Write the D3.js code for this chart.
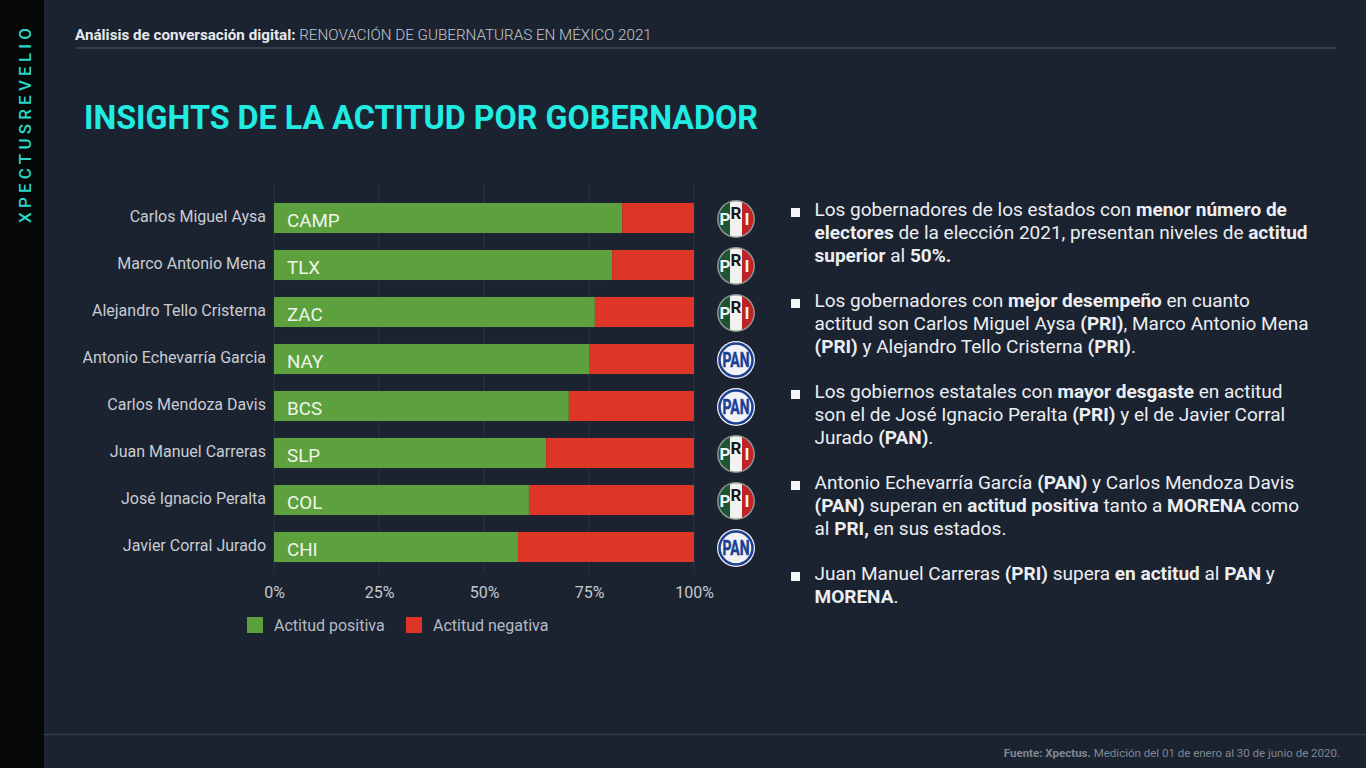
<!DOCTYPE html>
<html lang="es">

<head>
  <meta charset="UTF-8">
  <title>Insights de la actitud por gobernador</title>
  <script src="https://d3js.org/d3.v7.min.js"></script>
  <style>
    html, body { margin: 0; padding: 0; background: #1b2331; overflow: hidden; }
    svg { display: block; font-family: Roboto, sans-serif; }
  </style>
</head>

<body>
  <svg id="chart" width="1366" height="768"></svg>

  <script>
    const governors = ["Carlos Miguel Aysa", "Marco Antonio Mena", "Alejandro Tello Cristerna", "Antonio Echevarría Garcia",
      "Carlos Mendoza Davis", "Juan Manuel Carreras", "José Ignacio Peralta", "Javier Corral Jurado"];
    const states = ["CAMP", "TLX", "ZAC", "NAY", "BCS", "SLP", "COL", "CHI"];
    const parties = ["PRI", "PRI", "PRI", "PAN", "PAN", "PRI", "PRI", "PAN"];
    const positive = [82.9, 80.5, 76.4, 75, 70.2, 64.8, 60.7, 58.1];
    const negative = [17.1, 19.5, 23.6, 25, 29.8, 35.2, 39.3, 41.9];
    const ticks = [0, 25, 50, 75, 100];
    const legendLabels = ["Actitud positiva", "Actitud negativa"];

    // each line is a list of [text, bold]
    const bullets = [
      [[["Los gobernadores de los estados con ", 0], ["menor número de", 1]],
       [["electores", 1], [" de la elección 2021, presentan niveles de ", 0], ["actitud", 1]],
       [["superior", 1], [" al ", 0], ["50%.", 1]]],
      [[["Los gobernadores con ", 0], ["mejor desempeño", 1], [" en cuanto", 0]],
       [["actitud son Carlos Miguel Aysa ", 0], ["(PRI)", 1], [", Marco Antonio Mena", 0]],
       [["(PRI)", 1], [" y Alejandro Tello Cristerna ", 0], ["(PRI)", 1], [".", 0]]],
      [[["Los gobiernos estatales con ", 0], ["mayor desgaste", 1], [" en actitud", 0]],
       [["son el de José Ignacio Peralta ", 0], ["(PRI)", 1], [" y el de Javier Corral", 0]],
       [["Jurado ", 0], ["(PAN)", 1], [".", 0]]],
      [[["Antonio Echevarría García ", 0], ["(PAN)", 1], [" y Carlos Mendoza Davis", 0]],
       [["(PAN)", 1], [" superan en ", 0], ["actitud positiva", 1], [" tanto a ", 0], ["MORENA", 1], [" como", 0]],
       [["al ", 0], ["PRI,", 1], [" en sus estados.", 0]]],
      [[["Juan Manuel Carreras ", 0], ["(PRI)", 1], [" supera ", 0], ["en actitud", 1], [" al ", 0], ["PAN", 1], [" y", 0]],
       [["MORENA", 1], [".", 0]]]
    ];

    const green = "#5da13f", red = "#dd3526";
    const svg = d3.select("#chart");

    // background, side band, rules
    svg.append("rect").attr("width", 1366).attr("height", 768).attr("fill", "#1b2331");
    svg.append("rect").attr("width", 44).attr("height", 768).attr("fill", "#060808");
    svg.append("text")
      .attr("transform", "translate(31,223) rotate(-90)")
      .attr("font-size", 17).attr("font-weight", 500).attr("letter-spacing", 4.2)
      .attr("fill", "#2ad6c8").text("XPECTUSREVELIO");
    svg.append("line").attr("x1", 76).attr("x2", 1336).attr("y1", 48).attr("y2", 48)
      .attr("stroke", "#414a5a").attr("stroke-width", 1.5);
    svg.append("line").attr("x1", 44).attr("x2", 1366).attr("y1", 734.5).attr("y2", 734.5)
      .attr("stroke", "#353e4e").attr("stroke-width", 1.5);

    const head = svg.append("text").attr("x", 75).attr("y", 39.5).attr("font-size", 15.2).attr("fill", "#e6e8ec");
    head.append("tspan").attr("font-weight", 700).text("Análisis de conversación digital:");
    head.append("tspan").attr("fill", "#c3c7cf").attr("font-weight", 300).text(" RENOVACIÓN DE GUBERNATURAS EN MÉXICO 2021");

    svg.append("text").attr("x", 84).attr("y", 129)
      .attr("font-size", 32.3).attr("font-weight", 700).attr("fill", "#20ecE2")
      .text("INSIGHTS DE LA ACTITUD POR GOBERNADOR");

    const foot = svg.append("text").attr("x", 1340).attr("y", 757).attr("text-anchor", "end")
      .attr("font-size", 11.5).attr("fill", "#7f8694");
    foot.append("tspan").attr("font-weight", 700).text("Fuente: Xpectus.");
    foot.append("tspan").text(" Medición del 01 de enero al 30 de junio de 2020.");

    // chart
    const x = d3.scaleLinear().domain([0, 100]).range([274, 694]);
    const y = d3.scaleBand().domain(states).range([194.5, 570.5]).paddingInner(0.36).paddingOuter(0.18);

    svg.append("g").selectAll("line").data(ticks).enter().append("line")
      .attr("x1", d => x(d)).attr("x2", d => x(d))
      .attr("y1", 184).attr("y2", 573)
      .attr("stroke", "#2c3442").attr("stroke-width", 1);

    const axis = svg.append("g").attr("transform", "translate(0,592)")
      .call(d3.axisBottom(x).tickValues(ticks).tickSize(0).tickPadding(0).tickFormat(d => d + "%"));
    axis.select(".domain").remove();
    axis.selectAll("text").attr("font-family", "Roboto, sans-serif").attr("font-size", 16)
      .attr("fill", "#c4c8cf").attr("y", 0).attr("dy", "6");

    const rows = svg.append("g").selectAll("g").data(states).enter().append("g");

    rows.append("rect")
      .attr("x", x(0)).attr("y", d => y(d))
      .attr("width", (d, i) => x(positive[i]) - x(0)).attr("height", y.bandwidth())
      .attr("fill", green);
    rows.append("rect")
      .attr("x", (d, i) => x(positive[i])).attr("y", d => y(d))
      .attr("width", (d, i) => x(positive[i] + negative[i]) - x(positive[i])).attr("height", y.bandwidth())
      .attr("fill", red);
    rows.append("text")
      .attr("x", x(0) + 13).attr("y", d => y(d) + y.bandwidth() / 2 + 8.5)
      .attr("font-size", 18.8).attr("fill", "#eef5e8")
      .text(d => d);
    rows.append("text")
      .attr("x", 266).attr("y", d => y(d) + y.bandwidth() / 2 + 4)
      .attr("text-anchor", "end").attr("font-size", 16).attr("fill", "#c9ccd3")
      .text((d, i) => governors[i]);

    // party logos
    const logoX = 736, logoR = 19;
    const narrow = "'Liberation Sans Narrow', Roboto, sans-serif";
    const defs = svg.append("defs");
    defs.append("clipPath").attr("id", "logoClip").append("circle").attr("r", logoR - 1.5);

    const logos = rows.append("g")
      .attr("transform", d => `translate(${logoX},${y(d) + y.bandwidth() / 2 + 1})`);
    logos.each(function (d, i) {
      const g = d3.select(this);
      if (parties[i] === "PRI") {
        g.append("circle").attr("r", logoR).attr("fill", "#8d9490");
        const flag = g.append("g").attr("clip-path", "url(#logoClip)");
        flag.append("rect").attr("x", -logoR).attr("y", -logoR).attr("width", 13).attr("height", logoR * 2).attr("fill", "#1c5434");
        flag.append("rect").attr("x", -6).attr("y", -logoR).attr("width", 12).attr("height", logoR * 2).attr("fill", "#f2f2ee");
        flag.append("rect").attr("x", 6).attr("y", -logoR).attr("width", 13).attr("height", logoR * 2).attr("fill", "#c02326");
        const letters = [["P", -11, 6, "#f2f2ee"], ["R", 0, 0, "#15181c"], ["I", 11, 6, "#f2f2ee"]];
        letters.forEach(l => {
          g.append("text").attr("x", l[1]).attr("y", l[2]).attr("text-anchor", "middle")
            .attr("font-family", narrow).attr("font-size", 17).attr("font-weight", 700).attr("fill", l[3]).text(l[0]);
        });
      } else {
        g.append("circle").attr("r", logoR).attr("fill", "#f0f2f6");
        g.append("circle").attr("r", logoR - 2.5).attr("fill", "none").attr("stroke", "#1c3f94").attr("stroke-width", 2.5);
        g.append("text").attr("y", 7).attr("text-anchor", "middle")
          .attr("font-family", narrow).attr("font-size", 20).attr("font-weight", 700)
          .attr("stroke", "#1c3f94").attr("stroke-width", 0.5)
          .attr("textLength", 27).attr("lengthAdjust", "spacingAndGlyphs")
          .attr("fill", "#1c3f94").text("PAN");
      }
    });

    // legend
    const legend = svg.append("g").selectAll("g").data(legendLabels).enter().append("g")
      .attr("transform", (d, i) => `translate(${[247, 406][i]},617)`);
    legend.append("rect").attr("width", 16).attr("height", 16).attr("fill", (d, i) => [green, red][i]);
    legend.append("text").attr("x", 27).attr("y", 13.5).attr("font-size", 16).attr("fill", "#b5bac3").text(d => d);

    // right hand notes
    const firstLines = [216, 307, 398, 489, 580];
    const notes = svg.append("g").selectAll("g").data(bullets).enter().append("g")
      .attr("transform", (d, i) => `translate(0,${firstLines[i]})`);
    notes.append("rect").attr("x", 791).attr("y", -8).attr("width", 9).attr("height", 9).attr("fill", "#f4f5f6");
    notes.each(function (lines) {
      const block = d3.select(this);
      lines.forEach((line, k) => {
        const t = block.append("text").attr("x", 814.5).attr("y", k * 23)
          .attr("font-size", 19).attr("fill", "#eceef1");
        line.forEach(part => {
          t.append("tspan").attr("font-weight", part[1] ? 700 : 400).text(part[0]);
        });
      });
    });
  </script>
</body>

</html>
